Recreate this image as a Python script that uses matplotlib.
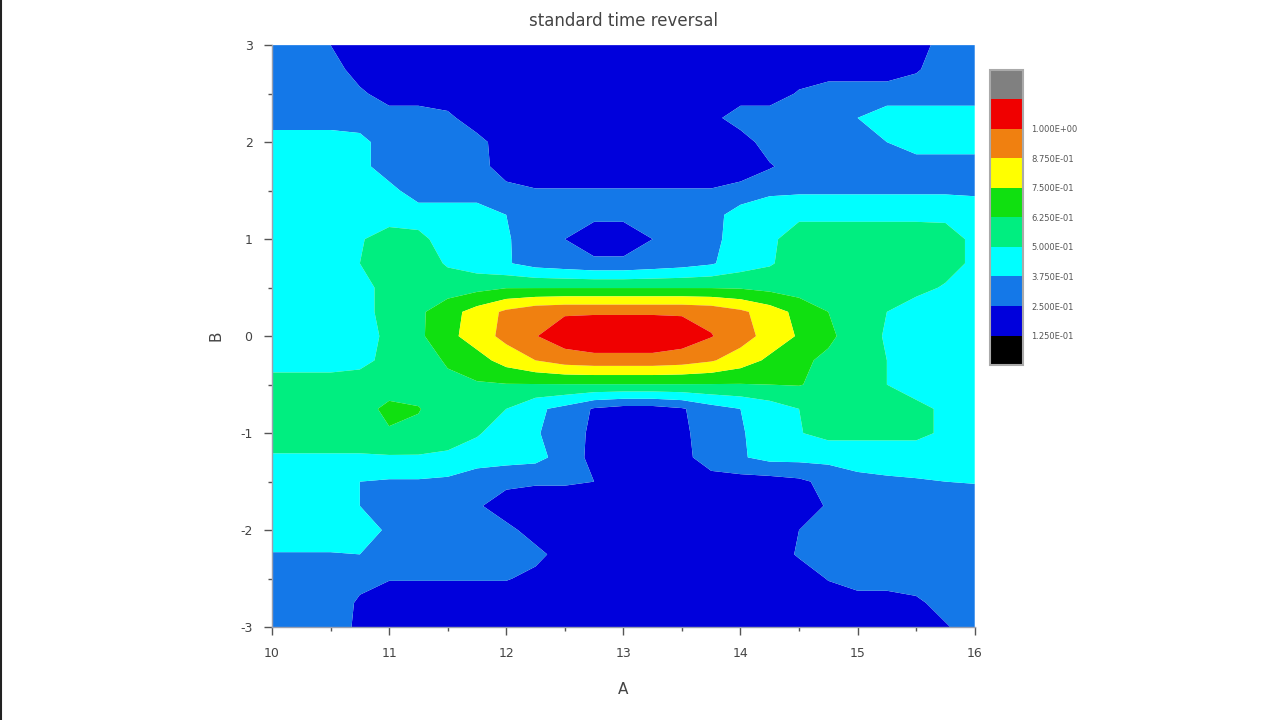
import numpy as np
import matplotlib
matplotlib.use("Agg")
import matplotlib.pyplot as plt
from matplotlib.colors import ListedColormap, BoundaryNorm
from matplotlib.lines import Line2D
from matplotlib.ticker import MultipleLocator

plt.rcParams['axes.unicode_minus'] = False

# ---- data (band-level values) ----
x_vals = np.linspace(10, 16, 25)
y_vals = np.linspace(3, -3, 25)   # top row first

z_rows = [
    [2.5,2.5,2.0] + [1.5]*20 + [2.5,2.5],
    [2.5,2.5,2.5] + [1.5]*19 + [1.9] + [2.5,2.5],
    [2.5,2.5,2.5,2.2] + [1.5]*14 + [2.1] + [2.5]*6,
    [2.5]*6 + [2.2] + [1.5]*8 + [1.7] + [2.5]*4 + [3.0] + [3.5]*4,
    [3.5,3.5,3.5,3.3,2.5,2.5,2.5,2.3] + [1.5]*9 + [2.5]*4 + [3.0] + [3.5]*3,
    [3.5,3.5,3.5,3.3,2.5,2.5,2.5,2.4] + [1.5]*9 + [1.9] + [2.5]*7,
    [3.5]*4 + [3.3] + [2.5]*3 + [2.3] + [2.05]*7 + [2.3] + [2.85]*8,
    [3.5]*8 + [3.0,2.5,2.2,2.2,2.2,2.2,2.5,2.6,3.5,3.5] + [3.8]*6 + [3.5],
    [3.5,3.5,3.5,3.9,4.5,4.3,3.5,3.5,3.1,2.5,2.0,1.5,1.5,2.0,2.5,2.7,3.5,3.8] + [4.5]*5 + [4.4,3.8],
    [3.5,3.5,3.5,4.0,4.5,4.5,3.9,3.5,3.1,2.6,2.4,2.2,2.2,2.4,2.6,2.9,3.5,3.9] + [4.5]*5 + [4.4,3.8],
    [3.5,3.5,3.5,3.7,4.3,4.5,4.5,4.7] + [4.95]*8 + [4.9,4.7,4.5,4.5,4.5,4.5,4.3,3.9,3.5],
    [3.5,3.5,3.5,3.7,4.3,4.8,5.6,6.4,7.2,7.7,7.87,7.87,7.87,7.87,7.87,7.7,7.2,6.5,5.7,5.0,4.5,4.0,3.5,3.5,3.5],
    [3.5,3.5,3.5,3.6,4.2,4.8,5.7,6.5,7.3,7.95,8.6,8.9,8.9,8.9,8.6,8.05,7.45,6.6,5.9,5.2,4.5,3.9,3.5,3.5,3.5],
    [3.5,3.5,3.5,3.7,4.3,4.6,5.1,5.6,6.4,7.0,7.45,7.6,7.6,7.6,7.45,7.1,6.5,5.8,5.2,4.8,4.5,4.0,3.6,3.5,3.5],
    [4.5,4.5,4.5,4.5,4.5,4.6,4.8,4.9] + [4.95]*9 + [5.0,5.05,4.7,4.3,4.0,3.5,3.5,3.5],
    [4.5,4.5,4.5,4.6,5.25,5.05,4.5,4.3,4.0,3.2,2.7,1.9,1.6,1.6,1.9,2.6,3.0,3.5,4.0,4.5,4.5,4.5,4.3,3.8,3.5],
    [4.5,4.5,4.5,4.5,4.9,4.8,4.5,4.1,3.5,3.1,2.5,1.8,1.5,1.5,1.8,2.5,2.9,3.5,3.95,4.3,4.3,4.3,4.3,3.8,3.5],
    [3.9,3.9,3.9,3.9,3.9,3.9,3.8,3.5,3.4,3.3,2.6,1.7,1.5,1.5,1.7,2.5,2.9] + [3.3]*8,
    [3.5,3.4,3.2,3.0,2.9,2.9,2.8,2.4,2.2,2.1,2.1,2.0,1.8,1.6,1.6,1.6,1.6,1.6,1.8,2.3,2.8,2.9,2.95,3.0,3.05],
    [3.5,3.5,3.4,3.0,2.6,2.5,2.4,2.1,1.6] + [1.5]*10 + [2.1,2.5,2.5,2.5,2.5,2.5],
    [3.5,3.5,3.5,3.3,2.9,2.6,2.5,2.5,2.2,1.7] + [1.5]*8 + [2.0] + [2.5]*6,
    [2.95,2.95,2.95,3.0,2.9,2.6,2.5,2.5,2.5,2.2,1.7] + [1.5]*7 + [2.1] + [2.5]*6,
    [2.5,2.5,2.5,2.2] + [2.05]*5 + [1.8] + [1.5]*9 + [2.05] + [2.5]*5,
    [2.5,2.5,2.4,1.9] + [1.5]*18 + [1.8,2.4,2.5],
    [2.5,2.5,2.5,1.8] + [1.5]*19 + [1.9,2.5],
]

level_bounds = list(range(0, 11))
band_colors = ['#000000', '#0000DC', '#1478E8', '#00FFFF', '#00EE80',
               '#10E010', '#FFFF00', '#F08010', '#F00000', '#808080']
cbar_ticks = [1, 2, 3, 4, 5, 6, 7, 8]
cbar_labels = ['1.250E-01', '2.500E-01', '3.750E-01', '5.000E-01',
               '6.250E-01', '7.500E-01', '8.750E-01', '1.000E+00']
x_ticks = [10, 11, 12, 13, 14, 15, 16]
y_ticks = [-3, -2, -1, 0, 1, 2, 3]
title = 'standard time reversal'

# ---- figure ----
Z = np.array(z_rows)
X, Y = np.meshgrid(x_vals, y_vals)

fig = plt.figure(figsize=(12.8, 7.2), dpi=100)
ax = fig.add_axes([0.2125, 0.129, 0.549, 0.8083])
cmap = ListedColormap(band_colors)
norm = BoundaryNorm(level_bounds, cmap.N)
cf = ax.contourf(X, Y, Z, levels=level_bounds, cmap=cmap, norm=norm, antialiased=True)

ax.set_xlim(10, 16)
ax.set_ylim(-3, 3)
ax.set_xticks(x_ticks)
ax.set_yticks(y_ticks)
ax.xaxis.set_minor_locator(MultipleLocator(0.5))
ax.yaxis.set_minor_locator(MultipleLocator(0.5))
tc = '#555555'
ax.tick_params(which='major', direction='out', length=6, width=1, color=tc,
               labelsize=9, labelcolor='#444444', pad=8)
ax.tick_params(which='minor', direction='out', length=3, width=1, color=tc)
for side in ['top', 'right']:
    ax.spines[side].set_visible(False)
for side in ['left', 'bottom']:
    ax.spines[side].set_color('#9aa0b0')
    ax.spines[side].set_linewidth(1)

ax.set_xlabel('A', fontsize=11, color='#444444', labelpad=16)
ax.set_ylabel('B', fontsize=11, color='#444444', labelpad=12)
ax.set_title(title, fontsize=12, color='#444444', pad=14)

cax = fig.add_axes([0.7734, 0.493, 0.0258, 0.41])
cb = fig.colorbar(cf, cax=cax, ticks=cbar_ticks)
cb.ax.set_yticklabels(cbar_labels)
cb.ax.minorticks_off()
cb.ax.tick_params(which='both', labelsize=6, labelcolor='#555555', length=0, pad=6)
cb.outline.set_edgecolor('#aaaaaa')
cb.outline.set_linewidth(1.5)

fig.add_artist(Line2D([0.001, 0.001], [0, 1], color='#222222', lw=1.5,
                      transform=fig.transFigure))

fig.savefig('out.png', dpi=100)
